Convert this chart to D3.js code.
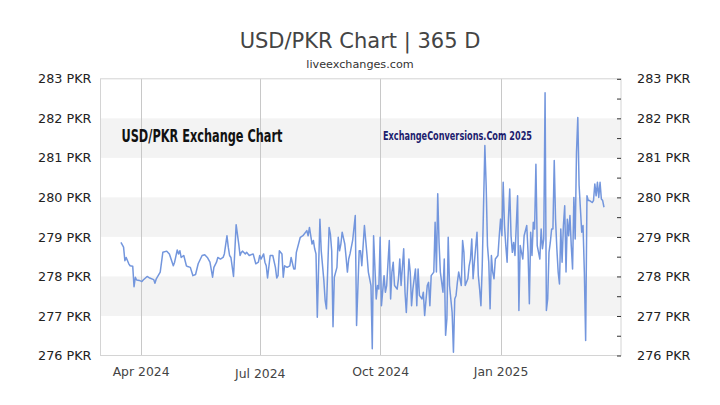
<!DOCTYPE html>
<html>
<head>
<meta charset="utf-8">
<script src="https://cdn.jsdelivr.net/npm/d3@7"></script>
<style>
  html, body { margin: 0; padding: 0; background: #fff; }
  svg { display: block; font-family: "DejaVu Sans", sans-serif; }
</style>
</head>
<body>
<svg id="chart" width="720" height="405"></svg>
<script>
// ---------------- DATA ----------------
const chartTitle = "USD/PKR Chart | 365 D";
const chartSubtitle = "liveexchanges.com";
const watermarkLeft = "USD/PKR Exchange Chart";
const watermarkRight = "ExchangeConversions.Com 2025";
const startDate = "2024-03-17";
const xDomainDates = ["2024-03-01", "2025-04-03"];
const xTickLabels = ["2024-04-01", "2024-07-01", "2024-10-01", "2025-01-01"];
const yDomain = [276, 283];
const yTickValues = [276, 277, 278, 279, 280, 281, 282, 283];
const shadedBands = [[281, 282], [279, 280], [277, 278]];
const unitLabel = "PKR";

const dayOffsets = [
  0,2,3,4,6,7,9,10,11,12,14,16,17,20,22,25,26,27,30,32,35,37,40,41,43,44,45,46,48,50,
  51,53,55,57,59,62,64,66,68,70,71,73,74,76,78,79,81,82,83,84,86,87,88,90,91,92,93,95,96,98,
  101,103,105,106,107,109,110,111,112,114,116,118,119,120,121,123,124,125,127,129,130,132,133,134,137,139,142,143,144,146,
  147,148,149,150,151,152,153,155,156,157,158,159,160,161,162,163,165,166,167,168,169,171,172,173,174,175,177,179,180,182,
  183,184,186,188,189,190,191,192,193,195,196,197,198,199,201,202,203,205,206,207,208,209,211,212,213,214,216,217,218,220,
  221,222,223,225,226,227,228,230,231,232,234,235,236,237,239,240,241,242,243,244,246,247,248,249,250,251,253,254,255,256,
  257,258,260,261,262,263,265,266,267,268,269,270,272,273,274,275,276,278,279,280,281,282,283,284,285,286,288,289,290,291,
  292,293,294,295,296,297,298,299,300,301,303,304,305,306,307,308,310,311,312,313,314,315,316,317,318,320,321,322,323,324,
  325,326,327,328,329,330,331,332,333,334,335,336,337,338,339,340,341,342,343,344,345,346,347,348,349,350,351,352,353,354,
  355,356,357,358,360,361,362,363,364,365,366,367,368,369
];
const rates = [
  278.86,278.74,278.40,278.48,278.32,278.27,278.26,277.74,277.98,277.91,277.90,277.87,277.91,278.00,277.96,277.92,277.83,277.94,278.11,278.61,278.64,278.57,278.27,278.36,278.67,278.57,278.65,278.48,278.53,278.27,
  278.25,278.23,278.02,278.05,278.32,278.53,278.55,278.48,278.36,277.98,278.23,278.36,278.48,278.44,278.48,278.57,279.03,278.74,278.53,278.48,278.00,278.65,279.31,278.82,278.53,278.61,278.64,278.57,278.61,278.53,
  278.57,278.32,278.36,278.53,278.44,278.57,278.36,278.27,277.96,278.53,278.53,278.23,277.96,278.02,278.65,278.57,277.98,278.27,278.23,278.27,278.48,278.19,278.19,278.61,278.99,279.03,279.16,279.03,279.24,278.82,
  278.91,278.70,278.57,276.97,278.23,279.45,278.65,277.90,277.39,277.18,278.23,279.24,279.07,278.65,276.73,277.98,278.23,278.99,278.65,278.82,279.12,278.82,278.48,278.11,278.44,278.57,278.91,279.54,276.76,278.65,
  278.65,278.27,279.29,278.53,278.11,277.94,277.77,276.17,279.03,277.43,277.77,277.68,278.99,277.26,278.02,277.60,277.77,278.91,277.43,278.11,278.36,277.77,277.68,277.94,278.44,277.77,278.70,277.60,277.09,278.44,
  278.11,277.26,277.68,278.19,277.26,278.19,277.52,277.43,277.60,277.01,277.77,277.85,277.26,278.02,278.11,279.37,278.11,280.09,278.86,278.11,277.60,278.44,276.51,276.93,278.99,277.77,277.09,276.08,277.43,277.52,
  277.85,278.11,277.77,278.91,278.61,277.77,277.94,278.27,278.44,278.95,277.94,278.36,279.12,278.02,277.68,277.26,278.27,281.31,280.30,278.78,278.36,277.18,278.53,278.11,277.94,278.44,278.53,279.03,279.45,279.03,
  280.38,279.29,278.78,278.36,279.45,280.21,279.03,278.61,278.86,278.53,280.04,277.14,278.78,278.61,278.44,279.03,279.29,278.61,277.31,279.12,278.53,279.37,279.20,280.84,278.78,278.44,279.20,278.70,278.95,282.65,
  277.14,277.43,278.61,278.86,279.20,279.20,280.93,279.45,278.70,278.11,277.81,279.20,278.36,279.29,279.79,278.11,279.45,279.03,279.54,278.78,278.19,280.00,278.95,281.14,282.02,280.30,279.71,279.12,279.29,278.11,
  276.38,280.04,279.92,279.92,279.87,279.92,280.34,280.04,280.38,280.00,280.38,279.96,279.92,279.75
];

// ---------------- LAYOUT ----------------
const svg = d3.select("#chart");
const plot = { left: 100, right: 621, top: 78.8, bottom: 355.5 };

const parse = d3.utcParse("%Y-%m-%d");
const start = parse(startDate);
const series = dayOffsets.map((d, i) => ({ date: d3.utcDay.offset(start, d), value: rates[i] }));

const x = d3.scaleUtc().domain(xDomainDates.map(parse)).range([plot.left, plot.right]);
const y = d3.scaleLinear().domain(yDomain).range([plot.bottom, plot.top]);

// Title
svg.append("text").attr("x", 360).attr("y", 47.5).attr("text-anchor", "middle")
  .attr("font-size", 21).attr("fill", "#444").text(chartTitle);
svg.append("text").attr("x", 360).attr("y", 68).attr("text-anchor", "middle")
  .attr("font-size", 11.2).attr("fill", "#333").text(chartSubtitle);

// Shaded bands
svg.append("g").selectAll("rect").data(shadedBands).join("rect")
  .attr("x", plot.left).attr("width", plot.right - plot.left)
  .attr("y", d => y(d[1])).attr("height", d => y(d[0]) - y(d[1]))
  .attr("fill", "#f3f3f3");

// Vertical grid lines at x ticks
const xTicks = xTickLabels.map(parse);
svg.append("g").selectAll("line").data(xTicks).join("line")
  .attr("x1", d => Math.round(x(d)) + 0.5).attr("x2", d => Math.round(x(d)) + 0.5)
  .attr("y1", plot.top).attr("y2", plot.bottom)
  .attr("stroke", "#c8c8c8").attr("stroke-width", 1);

// Frame
svg.append("rect").attr("x", plot.left + 0.5).attr("y", plot.top)
  .attr("width", plot.right - plot.left - 0.5).attr("height", plot.bottom - plot.top)
  .attr("fill", "none").attr("stroke", "#d4d4d4").attr("stroke-width", 1);

// Watermark texts
svg.append("text").attr("x", 121.5).attr("y", 141.5)
  .attr("font-family", "'Liberation Sans Narrow', 'DejaVu Sans Condensed', sans-serif")
  .attr("font-weight", "bold").attr("font-size", 18.5).attr("fill", "#111")
  .attr("textLength", 161).attr("lengthAdjust", "spacingAndGlyphs")
  .text(watermarkLeft);
svg.append("text").attr("x", 383).attr("y", 140)
  .attr("font-family", "'Liberation Sans Narrow', 'DejaVu Sans Condensed', sans-serif")
  .attr("font-weight", "bold").attr("font-size", 12).attr("fill", "#1d1d6e")
  .attr("textLength", 149).attr("lengthAdjust", "spacingAndGlyphs")
  .text(watermarkRight);

// Line
const line = d3.line().x(d => x(d.date)).y(d => y(d.value));
svg.append("path").datum(series).attr("d", line)
  .attr("fill", "none").attr("stroke", "#7396dd").attr("stroke-width", 1.5)
  .attr("stroke-linejoin", "round");

// Left axis
const yFmt = d => d + " " + unitLabel;
const gl = svg.append("g").attr("transform", `translate(${plot.left},0)`)
  .call(d3.axisLeft(y).tickValues(yTickValues).tickSize(0).tickPadding(8.5).tickFormat(yFmt));
gl.select(".domain").remove();
gl.selectAll("text").attr("font-size", 12.8).attr("fill", "#222").attr("font-family", "DejaVu Sans");

// Right axis (major + minor ticks)
const rightTicks = d3.range(yDomain[0], yDomain[1] + 0.001, 0.5);
const gr = svg.append("g").attr("transform", `translate(${plot.right},0)`)
  .call(d3.axisRight(y).tickValues(rightTicks).tickSizeInner(-4).tickSizeOuter(0).tickPadding(16)
    .tickFormat(d => Number.isInteger(d) ? yFmt(d) : ""));
gr.select(".domain").remove();
gr.selectAll("line").attr("stroke", "#333");
gr.selectAll("text").attr("font-size", 12.8).attr("fill", "#222").attr("font-family", "DejaVu Sans");

// Bottom axis
const gx = svg.append("g").attr("transform", `translate(0,${plot.bottom})`)
  .call(d3.axisBottom(x).tickValues(xTicks).tickSize(0).tickPadding(11.5).tickFormat(d3.utcFormat("%b %Y")));
gx.select(".domain").remove();
gx.selectAll("text").attr("font-size", 12.4).attr("fill", "#444").attr("font-family", "DejaVu Sans")
  .attr("transform", d => d.getUTCMonth() === 6 ? "translate(0,2)" : null);
</script>
</body>
</html>
